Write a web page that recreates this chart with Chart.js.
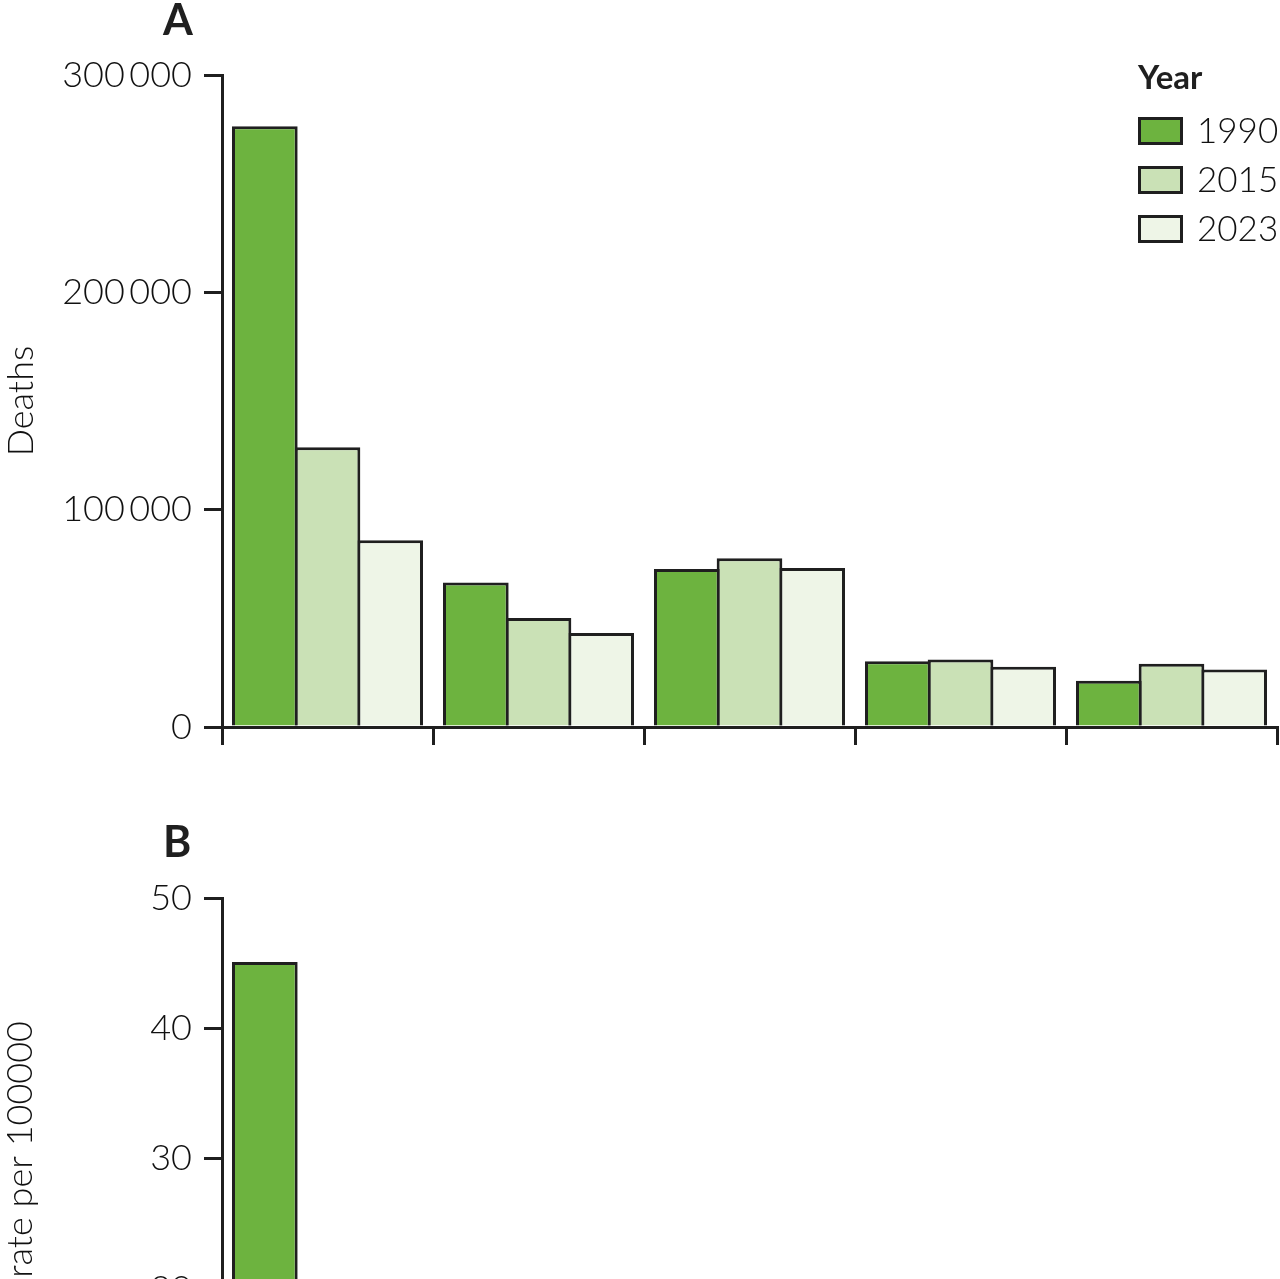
<!DOCTYPE html>
<html>
<head>
<meta charset="utf-8">
<script src="https://cdn.jsdelivr.net/npm/chart.js@4.4.1/dist/chart.umd.min.js"></script>
<style>
  html, body { margin: 0; padding: 0; background: #fff; overflow: hidden; }
  canvas { display: block; }
</style>
</head>
<body>
<canvas id="deathsChart" width="1280" height="780"></canvas>
<canvas id="rateChart" width="1280" height="823"></canvas>
<script>
// categories (no labels are shown in the picture)
var categories = ['Group 1', 'Group 2', 'Group 3', 'Group 4', 'Group 5'];
var years = ['1990', '2015', '2023'];

// panel A: deaths
var deaths1990 = [276400, 66500, 72700, 30300, 21300];
var deaths2015 = [128700, 50200, 77600, 31100, 29100];
var deaths2023 = [85900, 43300, 73200, 27700, 26500];

// panel B: rate per 100 000 (only the first bar rises above the crop line)
var rate1990 = [45.1, null, null, null, null];
var rate2015 = [null, null, null, null, null];
var rate2023 = [null, null, null, null, null];

var deathTicks = [0, 100000, 200000, 300000];
var rateTicks = [0, 10, 20, 30, 40, 50];

var yearColours = ['#6db33f', '#cae1b6', '#eef5e7'];
var ink = '#1f1f1f';
var textInk = '#111';
var fontName = 'Lato, "Open Sans", sans-serif';

function spaced(v) {
    return String(v).replace(/\B(?=(\d{3})+(?!\d))/g, '\u2009');
}

function makeDatasets(series) {
    return series.map(function (values, i) {
        return {
            label: years[i],
            data: values,
            backgroundColor: yearColours[i],
            borderColor: ink,
            borderWidth: 3,
            categoryPercentage: 0.891,
            barPercentage: 1.048
        };
    });
}

// panel letter, legend and free y title drawn on top
var extras = {
    id: 'extras',
    afterDraw: function (chart, args, opts) {
        var ctx = chart.ctx;
        var area = chart.chartArea;
        ctx.save();
        ctx.fillStyle = ink;
        ctx.textBaseline = 'alphabetic';
        ctx.textAlign = 'left';
        ctx.font = 'bold 43px ' + fontName;
        ctx.fillText(opts.letter, area.left - 59, area.top - opts.letterGap);

        if (opts.legend) {
            var lx = area.right - 139;
            ctx.font = 'bold 33px ' + fontName;
            ctx.fillText('Year', lx, area.top + 14);
            ctx.font = '300 35px ' + fontName;
            ctx.textBaseline = 'middle';
            chart.data.datasets.forEach(function (ds, i) {
                var by = area.top + 42 + i * 49;
                ctx.fillStyle = ds.backgroundColor;
                ctx.fillRect(lx, by, 45, 28);
                ctx.lineWidth = 3;
                ctx.strokeStyle = ink;
                ctx.strokeRect(lx + 1.5, by + 1.5, 42, 25);
                ctx.fillStyle = textInk;
                ctx.fillText(ds.label, lx + 59, by + 15);
            });
        }

        if (opts.sideTitle) {
            ctx.fillStyle = textInk;
            ctx.translate(20, area.top + 123);
            ctx.rotate(-Math.PI / 2);
            ctx.textAlign = 'right';
            ctx.textBaseline = 'middle';
            ctx.font = '300 36px ' + fontName;
            ctx.fillText(opts.sideTitle, 0, 0);
        }
        ctx.restore();
    }
};

function makeOptions(max, step, tickList, title, extraOpts) {
    return {
        responsive: false,
        animation: false,
        layout: { padding: { top: extraOpts.top, right: 3, bottom: 35, left: 0 } },
        plugins: {
            legend: { display: false },
            tooltip: { enabled: false },
            extras: extraOpts
        },
        scales: {
            x: {
                offset: true,
                ticks: { display: false },
                grid: {
                    offset: true,
                    drawOnChartArea: false,
                    drawTicks: true,
                    tickLength: 18,
                    lineWidth: 3,
                    color: ink
                },
                border: { display: true, color: ink, width: 3 }
            },
            y: {
                min: 0,
                max: max,
                afterFit: function (s) { s.width = 222; },
                afterBuildTicks: function (s) {
                    s.ticks = tickList.map(function (v) { return { value: v }; });
                },
                ticks: {
                    stepSize: step,
                    padding: 12,
                    color: textInk,
                    font: { family: fontName, size: 36, weight: '300' },
                    callback: function (v) { return spaced(v); }
                },
                grid: {
                    drawOnChartArea: false,
                    drawTicks: true,
                    tickLength: 18,
                    lineWidth: 3,
                    color: ink
                },
                border: { display: true, color: ink, width: 3 },
                title: {
                    display: !!title,
                    text: title,
                    color: textInk,
                    padding: { top: 0, bottom: 0 },
                    font: { family: fontName, size: 36, weight: '300' }
                }
            }
        }
    };
}

new Chart(document.getElementById('deathsChart'), {
    type: 'bar',
    data: {
        labels: categories,
        datasets: makeDatasets([deaths1990, deaths2015, deaths2023])
    },
    options: makeOptions(300000, 100000, deathTicks, 'Deaths',
        { top: 75, letter: 'A', letterGap: 40, legend: true }),
    plugins: [extras]
});

new Chart(document.getElementById('rateChart'), {
    type: 'bar',
    data: {
        labels: categories,
        datasets: makeDatasets([rate1990, rate2015, rate2023])
    },
    options: makeOptions(50, 10, rateTicks, '',
        { top: 118, letter: 'B', letterGap: 41, legend: false, sideTitle: 'rate per 100000' }),
    plugins: [extras]
});
</script>
</body>
</html>
